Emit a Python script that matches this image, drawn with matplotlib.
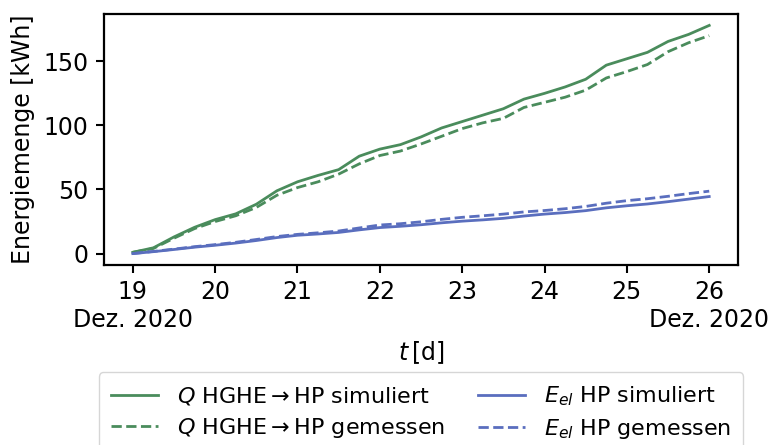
import matplotlib
matplotlib.use("Agg")
import matplotlib.pyplot as plt

# Time axis in days of December 2020 (6-hour resolution)
days = [19.00, 19.25, 19.50, 19.75, 20.00, 20.25, 20.50, 20.75,
        21.00, 21.25, 21.50, 21.75, 22.00, 22.25, 22.50, 22.75,
        23.00, 23.25, 23.50, 23.75, 24.00, 24.25, 24.50, 24.75,
        25.00, 25.25, 25.50, 25.75, 26.00]

# Cumulative heat HGHE -> HP [kWh]
q_sim = [1, 4.5, 13, 20.5, 26.5, 31, 38.5, 49,
         56, 61, 65.5, 76, 81.5, 85, 91, 98,
         103, 108, 113, 120.5, 125, 130, 136, 147,
         152, 157, 165.5, 171, 178]
q_meas = [1, 4, 12, 19.5, 25, 29.5, 36, 45.5,
          51.5, 56, 62, 70, 76.5, 80, 85.5, 91.5,
          97.5, 102, 105.5, 114, 118, 122, 127.5, 137,
          142, 147.5, 157.5, 164.5, 170]

# Cumulative electrical energy of the heat pump [kWh]
e_sim = [0, 1.5, 3.2, 5, 6.5, 8.2, 10.2, 12.5,
         14.3, 15.3, 16.5, 18.5, 20.3, 21.3, 22.5, 24,
         25.3, 26.3, 27.5, 29.3, 30.8, 32, 33.5, 35.7,
         37.3, 38.7, 40.5, 42.5, 44.5]
e_meas = [0, 1.7, 3.5, 5.4, 7, 8.8, 11, 13.3,
          15, 16.2, 17.6, 20, 22.3, 23.3, 24.8, 26.7,
          28.3, 29.5, 30.8, 32.5, 33.6, 35, 36.8, 39.3,
          41.3, 42.8, 44.7, 46.8, 48.7]

tick_days = [19, 20, 21, 22, 23, 24, 25, 26]
tick_labels = ["19\nDez. 2020", "20", "21", "22", "23", "24", "25",
               "26\nDez. 2020"]
y_ticks = [0, 50, 100, 150]

green = "#4a8c5c"
blue = "#5a6ebe"

plt.rcParams["font.family"] = ["DejaVu Sans"]
plt.rcParams["mathtext.fontset"] = "dejavusans"

fig = plt.figure(figsize=(7.72, 4.45), dpi=100)
ax = fig.add_axes([0.1347, 0.4045, 0.8213, 0.564])

lw = 2.0
ax.plot(days, q_sim, color=green, lw=lw, ls="-",
        label=r"$Q$ HGHE$\rightarrow$HP simuliert")
ax.plot(days, q_meas, color=green, lw=lw, ls="--",
        label=r"$Q$ HGHE$\rightarrow$HP gemessen")
ax.plot(days, e_sim, color=blue, lw=lw, ls="-",
        label=r"$E_{el}$ HP simuliert")
ax.plot(days, e_meas, color=blue, lw=lw, ls="--",
        label=r"$E_{el}$ HP gemessen")

ax.set_xticks(tick_days)
ax.set_xticklabels(tick_labels)
ax.set_yticks(y_ticks)
ax.margins(x=0.05, y=0.05)

for s in ax.spines.values():
    s.set_linewidth(1.6)
    s.set_color("black")
ax.tick_params(axis="both", which="major", length=6, width=1.5,
               labelsize=17, color="black", pad=5)

ax.set_ylabel("Energiemenge [kWh]", fontsize=17, labelpad=6)
ax.set_xlabel(r"$t\,$[d]", fontsize=17, labelpad=5)

# two columns: heat entries left, electrical entries right
ax.legend(loc="upper center", bbox_to_anchor=(0.5, -0.428), ncol=2,
          fontsize=16, frameon=True, labelspacing=0.38, borderpad=0.55,
          columnspacing=1.5, handlelength=2.1, handletextpad=0.85,
          borderaxespad=0)

fig.savefig("out.png", dpi=100)
